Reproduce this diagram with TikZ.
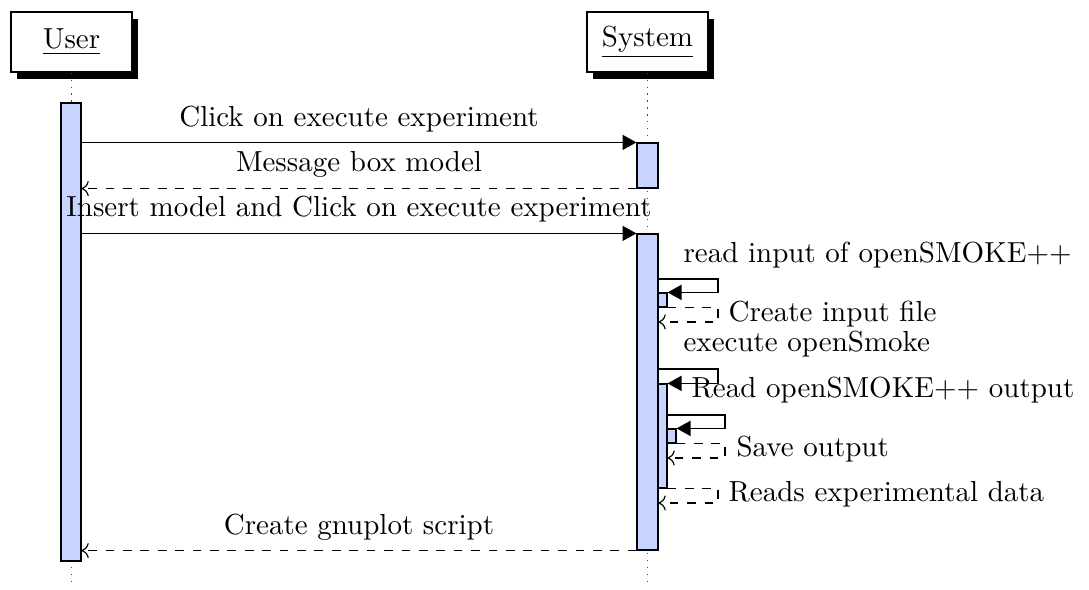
\documentclass[tikz,border=0pt]{standalone}
\usetikzlibrary{shadows,arrows.meta,fit}
\definecolor{actfill}{RGB}{198,212,255}
\begin{document}
\begin{tikzpicture}[x=0.3448pt,y=-0.3448pt,
  inst/.style={draw, fill=white, line width=0.4pt, inner sep=0pt,
    minimum width=41.7pt, minimum height=20.7pt,
    drop shadow={opacity=1, fill=black, shadow xshift=2.1pt, shadow yshift=-2.4pt}},
  lifeline/.style={dotted, black!70, line width=0.4pt},
  act/.style={draw, fill=actfill, line width=0.4pt, inner sep=0pt},
  call/.style={line width=0.4pt, -{Triangle[length=4.8pt,width=5.2pt]}},
  ret/.style={line width=0.4pt, dashed, ->},
  lbl/.style={inner sep=0pt, anchor=base},
  lblw/.style={inner sep=0pt, anchor=base west}
]
\useasboundingbox (0,0) rectangle (1089,590);

% instances
\node[inst] (user) at (71.5,42) {\underline{User}};
\node[inst] (sys)  at (647.5,42) {\underline{System}};

% lifelines
\coordinate (userend) at (71.5,586);
\coordinate (sysend) at (647.5,586);
\draw[lifeline] (user.south) -- (userend);
\draw[lifeline] (sys.south) -- (sysend);

% activation bars
\node[act, fit={(61,103)(81,561)}] (ub) {};
\node[act, fit={(637,143)(658,188)}] (sb1) {};
\node[act, fit={(637,234)(658,550)}] (sb2) {};
\node[act, fit={(658,293)(667,307)}] (a1) {};
\node[act, fit={(658,384)(667,488)}] (a2) {};
\node[act, fit={(667,429)(676,443)}] (a3) {};

% messages between the two lifelines
\draw[call] (ub.east |- sb1.north) -- (sb1.north west);
\node[lbl] (m1) at (359,127) {Click on execute experiment};

\draw[ret] (sb1.south west) -- (ub.east |- sb1.south);
\node[lbl] (m2) at (359,172) {Message box model};

\draw[call] (ub.east |- sb2.north) -- (sb2.north west);
\node[lbl] (m3) at (359,217) {Insert model and Click on execute experiment};

% self call: read input
\node[lblw] (m4) at (683,263) {read input of openSMOKE++};
\draw[call] (sb2.east |- 0,279) -- (718,279) -- (718,0 |- a1.north) -- (a1.north east);
\draw[ret] (a1.south east) -- (718,0 |- a1.south) -- (718,322) -- (sb2.east |- 0,322);
\node[lblw] (m5) at (728,322) {Create input file};

% self call: execute openSmoke
\node[lblw] (m6) at (683,352) {execute openSmoke};
\draw[call] (sb2.east |- 0,369) -- (718,369) -- (718,0 |- a2.north) -- (a2.north east);

% nested self call: read output
\draw[call] (a2.east |- 0,415) -- (725,415) -- (725,0 |- a3.north) -- (a3.north east);
\node[lblw] (m7) at (691,398) {Read openSMOKE++ output};
\draw[ret] (a3.south east) -- (725,0 |- a3.south) -- (725,458) -- (a2.east |- 0,458);
\node[lblw] (m8) at (736,457) {Save output};

\draw[ret] (a2.south east) -- (718,0 |- a2.south) -- (718,503) -- (sb2.east |- 0,503);
\node[lblw] (m9) at (728,502) {Reads experimental data};

% final reply
\draw[ret] (sb2.south west) -- (ub.east |- sb2.south);
\node[lbl] (m10) at (359,535) {Create gnuplot script};
\end{tikzpicture}
\end{document}
